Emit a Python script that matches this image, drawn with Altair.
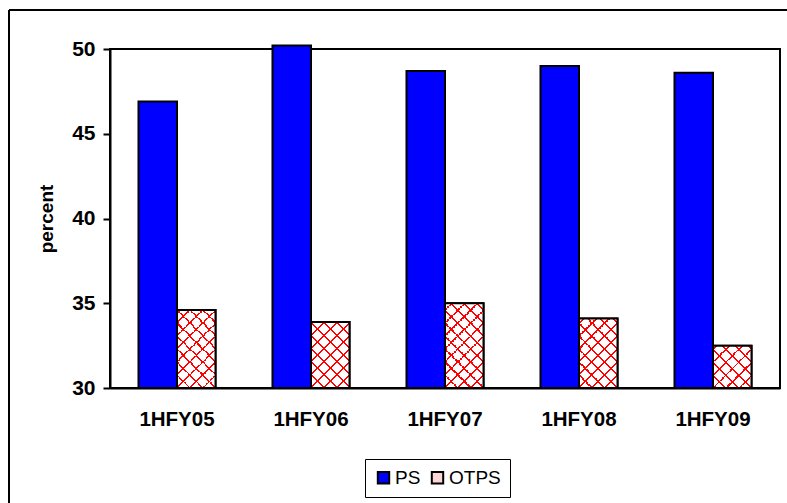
import altair as alt
import pandas as pd

# Half-year periods and the two series (percent)
categories = ["1HFY05", "1HFY06", "1HFY07", "1HFY08", "1HFY09"]
ps_values = [46.9, 50.2, 48.7, 49.0, 48.6]
otps_values = [34.6, 33.9, 35.0, 34.1, 32.5]
series = ["PS", "OTPS"]
y_ticks = [30, 35, 40, 45, 50]

FONT = "Liberation Sans"
PLOT_W, PLOT_H = 670, 339
Y_MIN, Y_MAX = 30, 50
PAD_OUTER = 0.74

rows = []
for c, p, o in zip(categories, ps_values, otps_values):
    rows.append({"period": c, "series": "PS", "value": p})
    rows.append({"period": c, "series": "OTPS", "value": o})
df = pd.DataFrame(rows)

x_enc = alt.X("period:N", sort=categories,
              scale=alt.Scale(paddingInner=0, paddingOuter=0),
              axis=alt.Axis(title=None, labelAngle=0, ticks=False, labelPadding=21,
                            labelFont=FONT, labelFontSize=20.5, labelFontWeight="bold",
                            labelColor="black", domainColor="black", domainWidth=2))
xo_enc = alt.XOffset("series:N", sort=series,
                     scale=alt.Scale(domain=series, paddingInner=0, paddingOuter=PAD_OUTER))
y_enc = alt.Y("value:Q",
              scale=alt.Scale(domain=[Y_MIN, Y_MAX], zero=False, nice=False),
              axis=alt.Axis(values=y_ticks, grid=False, title="percent",
                            labelFont=FONT, labelFontSize=21, labelFontWeight="bold",
                            labelColor="black", labelPadding=8,
                            tickColor="black", tickWidth=2, tickSize=7,
                            domainColor="black", domainWidth=2,
                            titleFont=FONT, titleFontSize=19, titleFontWeight="bold",
                            titleColor="black", titlePadding=15))
y2_enc = alt.datum(Y_MIN)

base = alt.Chart(df)

# Solid bars for both series; OTPS gets a pale fill that also colours its legend swatch
bars = base.mark_bar(stroke="black", strokeWidth=2).encode(
    x=x_enc, xOffset=xo_enc, y=y_enc, y2=y2_enc,
    color=alt.Color("series:N", sort=series,
                    scale=alt.Scale(domain=series, range=["#0000FF", "#FFD6D6"]),
                    legend=alt.Legend(title=None, orient="none", direction="horizontal",
                                      legendX=255, legendY=410,
                                      strokeColor="black", padding=9,
                                      symbolType="square", symbolSize=130,
                                      symbolStrokeColor="black", symbolStrokeWidth=2,
                                      labelFont=FONT, labelFontSize=19, labelColor="black",
                                      columnPadding=6, labelOffset=2)),
)

otps = base.transform_filter(alt.datum.series == "OTPS")
layers = [bars, otps.mark_bar(fill="white").encode(x=x_enc, xOffset=xo_enc, y=y_enc, y2=y2_enc)]

# Cross-hatch for OTPS: two diagonal stripe gradients per bar
bar_w = (PLOT_W / len(categories)) / (2 + 2 * PAD_OUTER)
PERIOD, LINE = 13.0, 2.0
RED, CLEAR = "#FF0000", "rgba(255,0,0,0)"


def stripe_stops(length, start):
    stops = []
    k = int(-start // PERIOD) - 1
    while True:
        c = start + k * PERIOD
        a, b = (c - LINE / 2) / length, (c + LINE / 2) / length
        k += 1
        if b <= 0:
            continue
        if a >= 1:
            break
        a, b = max(a, 0.0), min(b, 1.0)
        stops += [{"offset": a, "color": CLEAR}, {"offset": a, "color": RED},
                  {"offset": b, "color": RED}, {"offset": b, "color": CLEAR}]
    return stops


for c, v in zip(categories, otps_values):
    h = (v - Y_MIN) / (Y_MAX - Y_MIN) * PLOT_H
    w = bar_w
    s = (w + h) * h / (w * w + h * h)
    stops_a = stripe_stops(w + h, h)
    stops_b = stripe_stops(w + h, w + h)
    grad_a = {"gradient": "linear", "x1": 0, "y1": 0, "x2": s * w / h, "y2": s, "stops": stops_a}
    grad_b = {"gradient": "linear", "x1": 1, "y1": 0, "x2": 1 - s * w / h, "y2": s, "stops": stops_b}
    one = otps.transform_filter(alt.datum.period == c)
    for g in (grad_a, grad_b):
        layers.append(one.mark_bar(fill=g).encode(x=x_enc, xOffset=xo_enc, y=y_enc, y2=y2_enc))

layers.append(otps.mark_bar(fillOpacity=0, stroke="black", strokeWidth=2).encode(
    x=x_enc, xOffset=xo_enc, y=y_enc, y2=y2_enc))

# Outer frame of the figure
frame_data = alt.Data(values=[{"k": 0}])
frame_v = alt.Chart(frame_data).mark_rule(color="black", strokeWidth=2).encode(
    x=alt.value(-101), y=alt.value(-39), y2=alt.value(520))
frame_h = alt.Chart(frame_data).mark_rule(color="black", strokeWidth=2).encode(
    x=alt.value(-101), x2=alt.value(700), y=alt.value(-39))
layers += [frame_v, frame_h]

chart = alt.layer(*layers).properties(
    width=PLOT_W, height=PLOT_H,
    autosize=alt.AutoSizeParams(type="none"),
    padding={"left": 110, "top": 49, "right": 7, "bottom": 115},
    background="white",
).configure_view(stroke="black", strokeWidth=2)

chart.save("out.html", embed_options={"renderer": "svg", "actions": False})
